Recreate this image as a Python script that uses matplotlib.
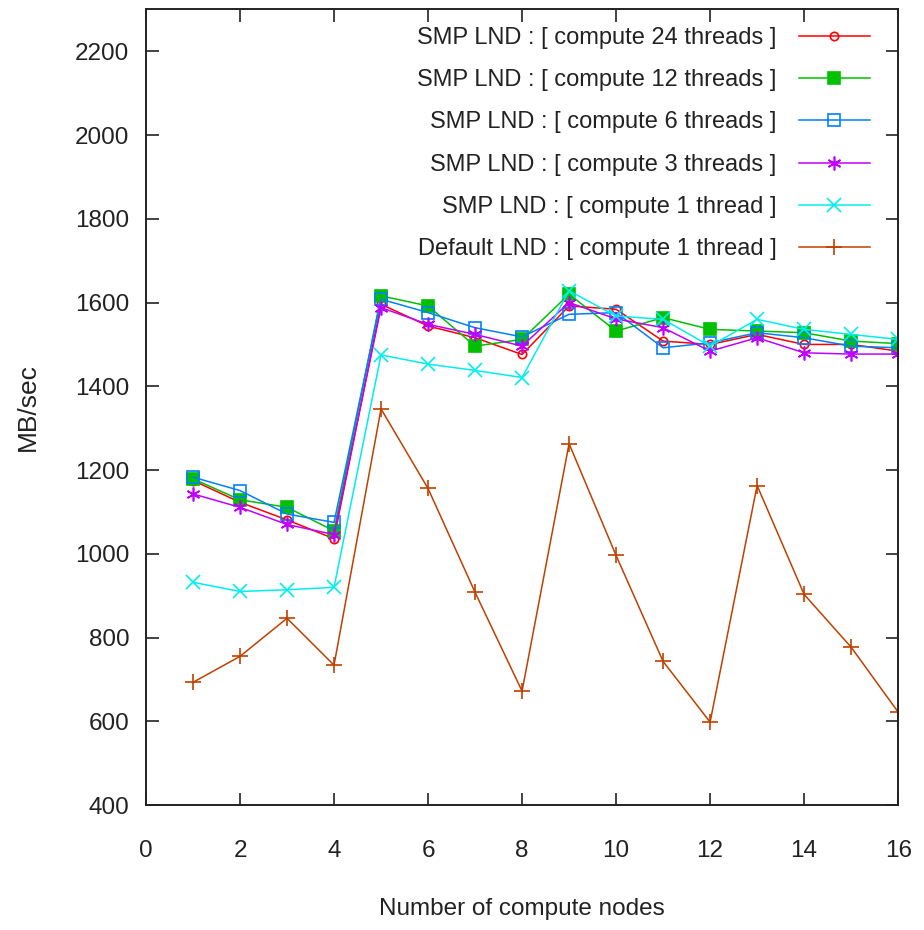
import matplotlib
matplotlib.use("Agg")
import matplotlib.pyplot as plt

plt.rcParams['font.family'] = ['Liberation Sans', 'DejaVu Sans']

nodes = list(range(1, 17))

smp_24 = [1175, 1123, 1081, 1036, 1596, 1544, 1516, 1476,
          1592, 1584, 1508, 1500, 1524, 1500, 1500, 1484]
smp_12 = [1179, 1129, 1111, 1055, 1616, 1592, 1496, 1512,
          1620, 1532, 1564, 1536, 1532, 1528, 1508, 1502]
smp_6 = [1183, 1151, 1095, 1075, 1608, 1576, 1540, 1518,
         1572, 1576, 1492, 1504, 1528, 1516, 1496, 1492]
smp_3 = [1143, 1111, 1070, 1046, 1588, 1548, 1524, 1496,
         1600, 1561, 1540, 1484, 1516, 1480, 1477, 1477]
smp_1 = [932, 910, 914, 920, 1475, 1453, 1438, 1421,
         1628, 1568, 1560, 1496, 1560, 1536, 1524, 1512]
default_1 = [693, 755, 846, 734, 1346, 1156, 908, 672,
             1263, 996, 743, 598, 1163, 903, 777, 622]

series = [
    ("SMP LND : [ compute 24 threads ]", smp_24, "#ff0000", "o", 6, "none"),
    ("SMP LND : [ compute 12 threads ]", smp_12, "#00c000", "s", 8, "#00c000"),
    ("SMP LND : [ compute 6 threads ]", smp_6, "#0080ff", "s", 8, "none"),
    ("SMP LND : [ compute 3 threads ]", smp_3, "#c000ff", (6, 2, 0), 10, "#c000ff"),
    ("SMP LND : [ compute 1 thread ]", smp_1, "#00eeee", "x", 10, "none"),
    ("Default LND : [ compute 1 thread ]", default_1, "#c04000", "+", 11, "none"),
]

fig = plt.figure(figsize=(9.24, 9.30), dpi=100)
ax = fig.add_axes([0.158, 0.1344, 0.814, 0.8554])

for label, vals, color, marker, ms, mfc in series:
    ax.plot(nodes, vals, color=color, lw=1.1, marker=marker, markersize=ms,
            markerfacecolor=mfc, markeredgecolor=color, markeredgewidth=1.2,
            label=label)

ax.set_xlim(0, 16)
ax.set_ylim(400, 2300)
ax.set_xticks(range(0, 17, 2))
ax.set_yticks(range(400, 2201, 200))
ax.tick_params(direction='in', length=9, width=1.2, top=True, right=True,
               labelsize=17.5, colors='#222222')
ax.tick_params(axis='x', pad=25)
ax.tick_params(axis='y', pad=12)
for s in ax.spines.values():
    s.set_linewidth(1.4)
    s.set_color('#222222')

ax.set_xlabel("Number of compute nodes", fontsize=17.5, labelpad=26, color='#222222')
ax.set_ylabel("MB/sec", fontsize=19, labelpad=25, color='#222222')

leg = ax.legend(loc='upper right', frameon=False, markerfirst=False,
                fontsize=17, handlelength=3.0, handletextpad=0.95,
                labelspacing=0.86, borderaxespad=0.0, numpoints=1,
                bbox_to_anchor=(0.975, 0.99))
for t in leg.get_texts():
    t.set_color('#222222')
vp = leg._legend_box._children[-1]._children[0]
vp.align = "right"

fig.savefig("out.png", dpi=100)
